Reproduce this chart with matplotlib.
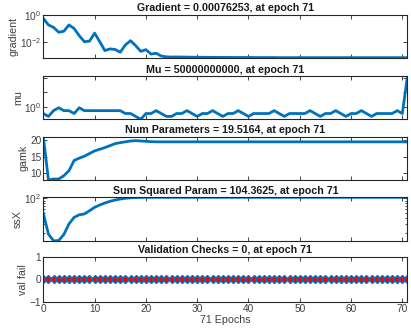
import numpy as np
import matplotlib.pyplot as plt
from matplotlib.ticker import NullFormatter, FixedLocator

plt.rcParams['font.family'] = ['Liberation Sans', 'DejaVu Sans']

epochs = np.arange(0, 72)

gradient = [0.54, 0.18, 0.12, 0.053, 0.063, 0.18, 0.10, 0.03, 0.011, 0.012,
            0.046, 0.011, 0.0025, 0.0033, 0.003, 0.0019, 0.0064, 0.013, 0.0057, 0.0022,
            0.0029, 0.0014, 0.0016, 0.001, 0.00088, 0.00085, 0.00086, 0.00085, 0.00084, 0.00083,
            0.00082, 0.00082, 0.00081, 0.00081, 0.0008, 0.0008, 0.0008, 0.00079, 0.00079, 0.00079,
            0.00079, 0.00078, 0.00078, 0.00078, 0.00078, 0.00078, 0.00077, 0.00077, 0.00077, 0.00077,
            0.00077, 0.00077, 0.00077, 0.00077, 0.00077, 0.00077, 0.00077, 0.00077, 0.00077, 0.00077,
            0.00077, 0.00077, 0.00077, 0.00077, 0.00077, 0.00077, 0.00077, 0.00077, 0.00077, 0.00077,
            0.00077, 0.00076253]

mu = [5e-3, 5e-4, 5e-2, 5e-1, 5e-2, 5e-2, 5e-3, 5e-1, 5e-2, 5e-2,
      5e-2, 5e-2, 5e-2, 5e-2, 5e-2, 5e-2, 5e-3, 5e-3, 5e-4, 5e-5,
      5e-3, 5e-3, 5e-2, 5e-3, 5e-4, 5e-4, 5e-3, 5e-3, 5e-2, 5e-3,
      5e-4, 5e-3, 5e-3, 5e-2, 5e-3, 5e-4, 5e-3, 5e-3, 5e-2, 5e-3,
      5e-4, 5e-3, 5e-3, 5e-3, 5e-3, 5e-2, 5e-3, 5e-4, 5e-3, 5e-3,
      5e-3, 5e-3, 5e-2, 5e-3, 5e-4, 5e-3, 5e-3, 5e-2, 5e-3, 5e-4,
      5e-3, 5e-3, 5e-2, 5e-3, 5e-4, 5e-3, 5e-3, 5e-3, 5e-3, 5e-2,
      5e-3, 5e10]

gamk = [21.1, 8.0, 8.3, 8.3, 9.3, 10.8, 13.9, 14.6, 15.2, 16.0,
        16.8, 17.3, 17.8, 18.4, 19.0, 19.3, 19.55, 19.8, 19.9, 19.8,
        19.7, 19.6] + [19.55] * 49 + [19.5164]

ssx = [49.8, 19.2, 14.1, 14.3, 18.9, 30.6, 41.5, 46.7, 48.5, 56.2,
       65.9, 73.3, 80.3, 86.8, 92.2, 96.6, 99.8, 102.0, 103.5, 104.0,
       104.2, 104.3] + [104.35] * 49 + [104.3625]

val_fail = [0] * 72

titles = ['Gradient = 0.00076253, at epoch 71',
          'Mu = 50000000000, at epoch 71',
          'Num Parameters = 19.5164, at epoch 71',
          'Sum Squared Param = 104.3625, at epoch 71',
          'Validation Checks = 0, at epoch 71']
ylabels = ['gradient', 'mu', 'gamk', 'ssX', 'val fail']

blue = '#0072BD'
dark = '#262626'

fig = plt.figure(figsize=(4.11, 3.31), dpi=100)
lefts = 0.1054
width = 0.886
bottoms = [0.8257, 0.6396, 0.4562, 0.2719, 0.0885]
heights = [0.130, 0.1308, 0.1308, 0.132, 0.136]

axes = []
for b, h in zip(bottoms, heights):
    ax = fig.add_axes([lefts, b, width, h])
    axes.append(ax)

series = [gradient, mu, gamk, ssx]
for i, ax in enumerate(axes[:4]):
    ax.plot(epochs, series[i], color=blue, linewidth=2)

axes[4].plot(epochs, val_fail, color=blue, linewidth=2, marker='D',
             markersize=4.4, markerfacecolor='red', markeredgecolor=blue,
             markeredgewidth=1.0)

axes[0].set_yscale('log')
axes[0].set_ylim(min(gradient), 1)
axes[0].yaxis.set_major_locator(FixedLocator([1e-2, 1e0]))

axes[1].set_yscale('log')
axes[1].set_ylim(min(mu), max(mu))
axes[1].yaxis.set_major_locator(FixedLocator([1e0, 1e5, 1e10]))
axes[1].set_yticklabels(['$\\mathregular{10^{0}}$', '', ''])
axes[1].yaxis.set_minor_locator(FixedLocator([]))

axes[2].set_ylim(min(gamk), max(gamk))
axes[2].set_yticks([10, 15, 20])

axes[3].set_yscale('log')
axes[3].set_ylim(14, max(ssx))
axes[3].yaxis.set_major_locator(FixedLocator([1e2]))
axes[3].yaxis.set_minor_formatter(NullFormatter())

axes[4].set_ylim(-1, 1)
axes[4].set_yticks([-1, 0, 1])

for i, ax in enumerate(axes):
    ax.set_xlim(0, 71)
    ax.set_xticks(np.arange(0, 71, 10))
    ax.tick_params(which='both', direction='in', top=True, right=True,
                   labelsize=7.3, colors=dark, length=3, width=0.6,
                   labelcolor='#404040', pad=1.5)
    ax.tick_params(which='minor', length=1.6)
    for s in ax.spines.values():
        s.set_color(dark)
        s.set_linewidth(0.8)
    ax.set_title(titles[i], fontsize=7.7, fontweight='bold', color='#1a1a1a', pad=2.5)
    ax.set_ylabel(ylabels[i], fontsize=7.7, color='#404040', labelpad=1)
    if i < 4:
        ax.set_xticklabels([])

axes[4].set_xlabel('71 Epochs', fontsize=7.7, color='#404040', labelpad=1)

fig.savefig('out.png', dpi=100)
